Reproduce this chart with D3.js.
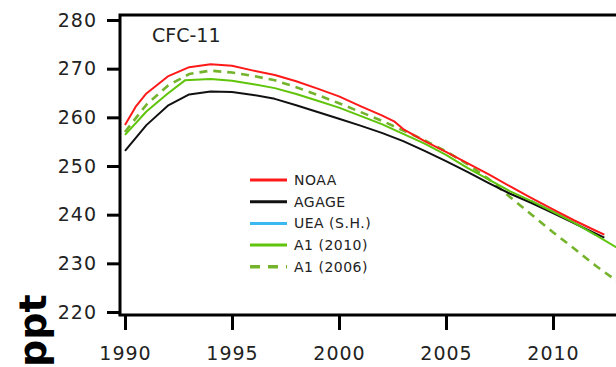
<!DOCTYPE html>
<html>
<head>
<meta charset="utf-8">
<script src="https://cdn.jsdelivr.net/npm/d3@7"></script>
<style>
    body { margin: 0; background: #fff; }
    svg { display: block; }
</style>
</head>
<body>
<div id="chart"></div>
<script>
// Tick values
const yTicks = [220, 230, 240, 250, 260, 270, 280];
const xTicks = [1990, 1995, 2000, 2005, 2010];

// Series values
const noaaYears = [1990, 1990.5, 1991, 1992, 1993, 1994, 1995, 1996, 1997, 1998, 1999, 2000, 2001, 2002, 2002.6, 2003, 2004, 2005, 2006, 2007, 2008, 2009, 2010, 2011, 2012, 2012.4];
const noaaValues = [258.4, 262.2, 264.9, 268.4, 270.3, 270.9, 270.6, 269.6, 268.7, 267.4, 265.9, 264.3, 262.3, 260.4, 259.1, 257.6, 255.1, 252.9, 250.6, 248.3, 245.8, 243.4, 241.1, 238.8, 236.7, 235.9];

const agageYears = [1990, 1991, 1992, 1993, 1994, 1995, 1996, 1997, 1998, 1999, 2000, 2001, 2002, 2003, 2004, 2005, 2006, 2007, 2008, 2009, 2010, 2011, 2012, 2012.4];
const agageValues = [253.1, 258.4, 262.4, 264.7, 265.3, 265.2, 264.6, 263.8, 262.5, 261.1, 259.7, 258.3, 256.8, 255.1, 253.1, 251, 248.8, 246.5, 244.3, 242.4, 240.3, 238.2, 236.1, 235.3];

const ueaYears = [2009, 2010, 2011, 2012];
const ueaValues = [242.8, 240.6, 238.3, 235.8];

const a12010Years = [1990, 1991, 1992, 1992.8, 1994, 1995, 1996, 1997, 1998, 1999, 2000, 2001, 2002, 2003, 2004, 2005, 2006, 2007, 2008, 2009, 2010, 2011, 2012, 2013];
const a12010Values = [256.4, 261.2, 264.9, 267.6, 267.9, 267.5, 266.8, 266, 264.8, 263.4, 262, 260.3, 258.6, 256.6, 254.6, 252.3, 249.6, 247.2, 244.8, 242.8, 240.6, 238.3, 235.8, 233.2];

const a12006Years = [1990, 1991, 1992, 1993, 1994, 1995, 1996, 1997, 1998, 1999, 2000, 2001, 2002, 2003, 2004, 2005, 2006, 2007, 2008, 2009, 2010, 2011, 2012, 2013];
const a12006Values = [257, 262.6, 266.5, 268.9, 269.6, 269.2, 268.5, 267.6, 266.2, 264.6, 262.9, 261.1, 259.3, 257.3, 255.3, 253, 250.4, 247.3, 243.6, 240, 236.4, 233, 229.5, 226.3];

const seriesNames = ["NOAA", "AGAGE", "UEA (S.H.)", "A1 (2010)", "A1 (2006)"];
const seriesColors = ["#ff1a1a", "#111111", "#3cb8f0", "#5fc40a", "#74b32c"];

// Chart sizes
const width = 616,
    height = 367,
    margin = ({top: 15, left: 120, bottom: 315});

const svg = d3.select("#chart")
    .append("svg")
    .attr("width", width)
    .attr("height", height)
    .style("font-family", "'DejaVu Sans', Verdana, sans-serif");

// Scales
const x = d3.scaleLinear()
    .domain([1990, 2010])
    .range([125, 553]);

const y = d3.scaleLinear()
    .domain([220, 280])
    .range([312, 20]);

// Clip for the plot area
svg.append("clipPath")
    .attr("id", "plot-clip")
    .append("rect")
    .attr("x", margin.left)
    .attr("y", margin.top)
    .attr("width", width - margin.left)
    .attr("height", margin.bottom - margin.top);

const line = d3.line()
    .x(d => x(d[0]))
    .y(d => y(d[1]));

const zip = (xs, vs) => xs.map((v, i) => [v, vs[i]]);

const plot = svg.append("g").attr("clip-path", "url(#plot-clip)");

// Draw order: UEA under A1 (2010)
const drawOrder = [
    {data: zip(ueaYears, ueaValues), color: seriesColors[2], dash: null},
    {data: zip(a12006Years, a12006Values), color: seriesColors[4], dash: "8,6"},
    {data: zip(agageYears, agageValues), color: seriesColors[1], dash: null},
    {data: zip(a12010Years, a12010Values), color: seriesColors[3], dash: null},
    {data: zip(noaaYears, noaaValues), color: seriesColors[0], dash: null}
];

for (let s of drawOrder) {
    plot.append("path")
        .datum(s.data)
        .attr("fill", "none")
        .attr("stroke", s.color)
        .attr("stroke-width", s.dash ? 2.6 : 2)
        .attr("stroke-dasharray", s.dash)
        .attr("stroke-linejoin", "round")
        .attr("d", line);
}

// Frame: top and left lines
svg.append("path")
    .attr("d", `M${width + 5},${margin.top}H${margin.left}V${margin.bottom}`)
    .attr("fill", "none")
    .attr("stroke", "#000")
    .attr("stroke-width", 3);

// Y-axis
const yAxis = svg.append("g")
    .attr("transform", `translate(${margin.left},0)`)
    .call(d3.axisLeft(y)
        .tickValues(yTicks)
        .tickSize(13)
        .tickPadding(10)
        .tickSizeOuter(0));
yAxis.select(".domain").remove();
yAxis.selectAll("line").attr("stroke-width", 3);
yAxis.selectAll("text")
    .attr("font-size", 19)
    .attr("letter-spacing", 1)
    .attr("fill", "#222")
    .style("font-family", "'DejaVu Sans', Verdana, sans-serif");

// X-axis
const xAxis = svg.append("g")
    .attr("transform", `translate(0,${margin.bottom})`)
    .call(d3.axisBottom(x)
        .tickValues(xTicks)
        .tickFormat(d3.format(""))
        .tickSize(15)
        .tickPadding(17)
        .tickSizeOuter(0));
xAxis.select(".domain")
    .attr("d", `M${margin.left - 1.5},0H${width + 5}`)
    .attr("stroke-width", 3);
xAxis.selectAll("line").attr("stroke-width", 3);
xAxis.selectAll("text")
    .attr("font-size", 19)
    .attr("letter-spacing", 1)
    .attr("fill", "#222")
    .style("font-family", "'DejaVu Sans', Verdana, sans-serif");

// Panel title
svg.append("text")
    .attr("x", 152)
    .attr("y", 42)
    .attr("font-size", 19)
    .attr("fill", "#222")
    .text("CFC-11");

// Y-axis label
svg.append("text")
    .attr("transform", "translate(46,367) rotate(-90)")
    .attr("font-size", 38)
    .attr("font-weight", 700)
    .attr("fill", "#000")
    .text("ppt");

// Legend
const legend = svg.append("g")
    .attr("transform", "translate(250,180)");

seriesNames.forEach((name, i) => {
    const row = legend.append("g")
        .attr("transform", `translate(0,${i * 21.7})`);
    row.append("line")
        .attr("x1", 0)
        .attr("x2", 37)
        .attr("stroke", seriesColors[i])
        .attr("stroke-width", i === 4 ? 3.5 : 3)
        .attr("stroke-dasharray", i === 4 ? "10,8" : null);
    row.append("text")
        .attr("x", 44)
        .attr("dy", "0.36em")
        .attr("font-size", 14)
        .attr("letter-spacing", 0.5)
        .attr("fill", "#222")
        .text(name);
});
</script>
</body>
</html>
